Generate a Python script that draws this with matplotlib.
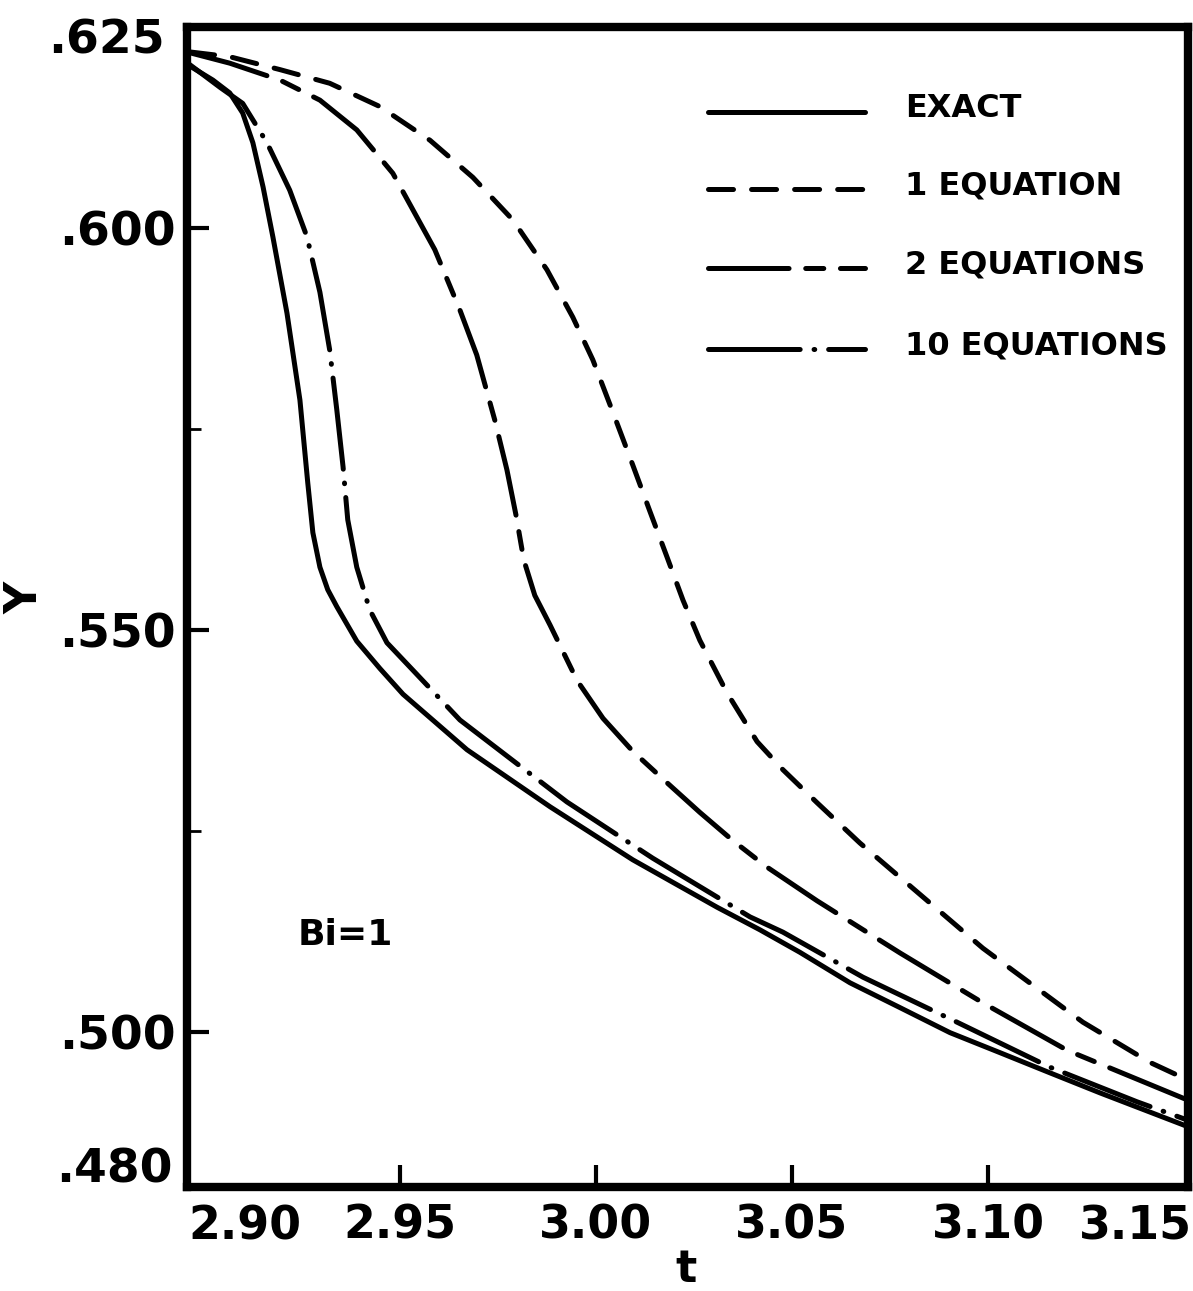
#!/usr/bin/env python3
#
# Y vs t for Bi=1: exact solution against 1, 2 and 10 equation approximations

import matplotlib
matplotlib.use('Agg')
import matplotlib.pyplot as plt
from matplotlib.lines import Line2D

plt.rcParams['font.family'] = ['DejaVu Sans']
plt.rcParams['font.weight'] = 'bold'
plt.rcParams['lines.scale_dashes'] = False

# Values

exact_t = [2.8959, 2.9023, 2.9066, 2.9099, 2.9125, 2.9151, 2.9176, 2.9212, 2.9245,
           2.9265, 2.9278, 2.9296, 2.9316, 2.9339, 2.9390, 2.9449, 2.9508, 2.9671,
           2.9883, 3.0094, 3.0309, 3.0418, 3.0520, 3.0648, 3.0776, 3.0903, 3.1031,
           3.1158, 3.1286, 3.1510]
exact_y = [.6203, .6184, .6168, .6143, .6106, .6051, .5989, .5894, .5786,
           .5683, .5621, .5578, .5550, .5529, .5486, .5452, .5420, .5351,
           .5280, .5214, .5155, .5127, .5099, .5061, .5030, .4999, .4974,
           .4949, .4924, .4882]

eq1_t = [2.8964, 2.9066, 2.9194, 2.9321, 2.9449, 2.9577, 2.9686, 2.9788, 2.9875,
         2.9941, 2.9992, 3.0043, 3.0094, 3.0138, 3.0181, 3.0222, 3.0265, 3.0334,
         3.0411, 3.0477, 3.0564, 3.0673, 3.0776, 3.0987, 3.1242, 3.1413, 3.1510]
eq1_y = [.6219, .6213, .6197, .6180, .6151, .6109, .6063, .6010, .5948,
         .5889, .5836, .5771, .5705, .5647, .5591, .5537, .5487, .5422,
         .5361, .5326, .5285, .5235, .5192, .5104, .5012, .4962, .4940]

eq2_t = [2.8964, 2.9066, 2.9194, 2.9296, 2.9390, 2.9482, 2.9589, 2.9653, 2.9696,
         2.9742, 2.9773, 2.9796, 2.9816, 2.9844, 2.9883, 2.9952, 3.0018, 3.0094,
         3.0181, 3.0265, 3.0349, 3.0436, 3.0564, 3.0776, 3.0987, 3.1202, 3.1510]
eq2_y = [.6218, .6205, .6184, .6159, .6122, .6068, .5973, .5898, .5842,
         .5761, .5699, .5643, .5587, .5543, .5506, .5437, .5390, .5349,
         .5310, .5273, .5238, .5205, .5163, .5098, .5036, .4977, .4915]

eq10_t = [2.8959, 2.9041, 2.9099, 2.9161, 2.9219, 2.9263, 2.9296, 2.9321, 2.9339,
          2.9355, 2.9367, 2.9390, 2.9423, 2.9467, 2.9533, 2.9653, 2.9926, 3.0145,
          3.0393, 3.0477, 3.0681, 3.0921, 3.1158, 3.1380, 3.1510]
eq10_y = [.6205, .6175, .6155, .6106, .6047, .5989, .5920, .5848, .5774,
          .5703, .5637, .5578, .5525, .5484, .5450, .5388, .5286, .5216,
          .5143, .5124, .5068, .5012, .4956, .4913, .4890]

xticks = [2.95, 3.00, 3.05, 3.10]
xticklabels = ['2.95', '3.00', '3.05', '3.10']
yticks = [.600, .550, .500]
yticklabels = ['.600', '.550', '.500']
yminor = [.575, .525]

labels = ['EXACT', '1 EQUATION', '2 EQUATIONS', '10 EQUATIONS']

# Line styles: solid, short dash, long-short dash, dash-dot
lw = 3.6
styles = [
    dict(linestyle='-'),
    dict(linestyle=(0, (18, 13))),
    dict(linestyle=(0, (58, 12, 13, 12))),
    dict(linestyle=(0, (66, 10, 0.5, 10))),
]

fig = plt.figure(figsize=(11.93, 12.91), dpi=100)
ax = fig.add_axes([187 / 1193, 1 - 1187 / 1291, 1001 / 1193, 1160 / 1291])

series = [(exact_t, exact_y), (eq1_t, eq1_y), (eq2_t, eq2_y), (eq10_t, eq10_y)]
for (t, y), st in zip(series, styles):
    ax.plot(t, y, color='black', lw=lw, dash_capstyle='round',
            solid_capstyle='round', solid_joinstyle='round', **st)

ax.set_xlim(2.8957, 3.1510)
ax.set_ylim(0.4807, 0.6250)

for s in ax.spines.values():
    s.set_linewidth(6)

ax.set_xticks(xticks)
ax.set_xticklabels(xticklabels, fontsize=33, fontweight='bold')
ax.set_yticks(yticks)
ax.set_yticklabels(yticklabels, fontsize=34, fontweight='bold')
ax.set_yticks(yminor, minor=True)
ax.tick_params(axis='both', which='major', direction='in', length=16, width=3)
ax.tick_params(axis='x', which='major', pad=12)
ax.tick_params(axis='y', which='major', pad=8)
ax.tick_params(axis='y', which='minor', direction='in', length=10, width=2)

# corner tick labels, drawn off the ends of the axes as in the original
ax.text(2.9105, -0.015, '2.90', transform=ax.get_xaxis_transform(),
        ha='center', va='top', fontsize=33, fontweight='bold')
ax.text(3.1375, -0.015, '3.15', transform=ax.get_xaxis_transform(),
        ha='center', va='top', fontsize=33, fontweight='bold')
ax.text(-0.022, 0.988, '.625', transform=ax.transAxes,
        ha='right', va='center', fontsize=34, fontweight='bold')
ax.text(-0.014, 0.015, '.480', transform=ax.transAxes,
        ha='right', va='center', fontsize=34, fontweight='bold')

# axis titles
fig.text(686 / 1193, 1 - 1270 / 1291, 't', ha='center', va='center',
         fontsize=32, fontweight='bold')
ax.text(-0.162, 0.508, 'Y', transform=ax.transAxes, rotation=90,
        ha='center', va='center', fontsize=32, fontweight='bold')

# hand-placed legend
rows = [0.927, 0.860, 0.792, 0.722]
for ypos, lab, st in zip(rows, labels, styles):
    ax.add_line(Line2D([0.520, 0.677], [ypos, ypos], transform=ax.transAxes,
                       color='black', lw=lw, dash_capstyle='round',
                       solid_capstyle='round', **st))
    ax.text(0.717, ypos + 0.003, lab, transform=ax.transAxes, ha='left',
            va='center', fontsize=23, fontweight='bold')

ax.text(0.158, 0.217, 'Bi=1', transform=ax.transAxes, ha='center',
        va='center', fontsize=26, fontweight='bold')

plt.savefig('out.png', dpi=100)
